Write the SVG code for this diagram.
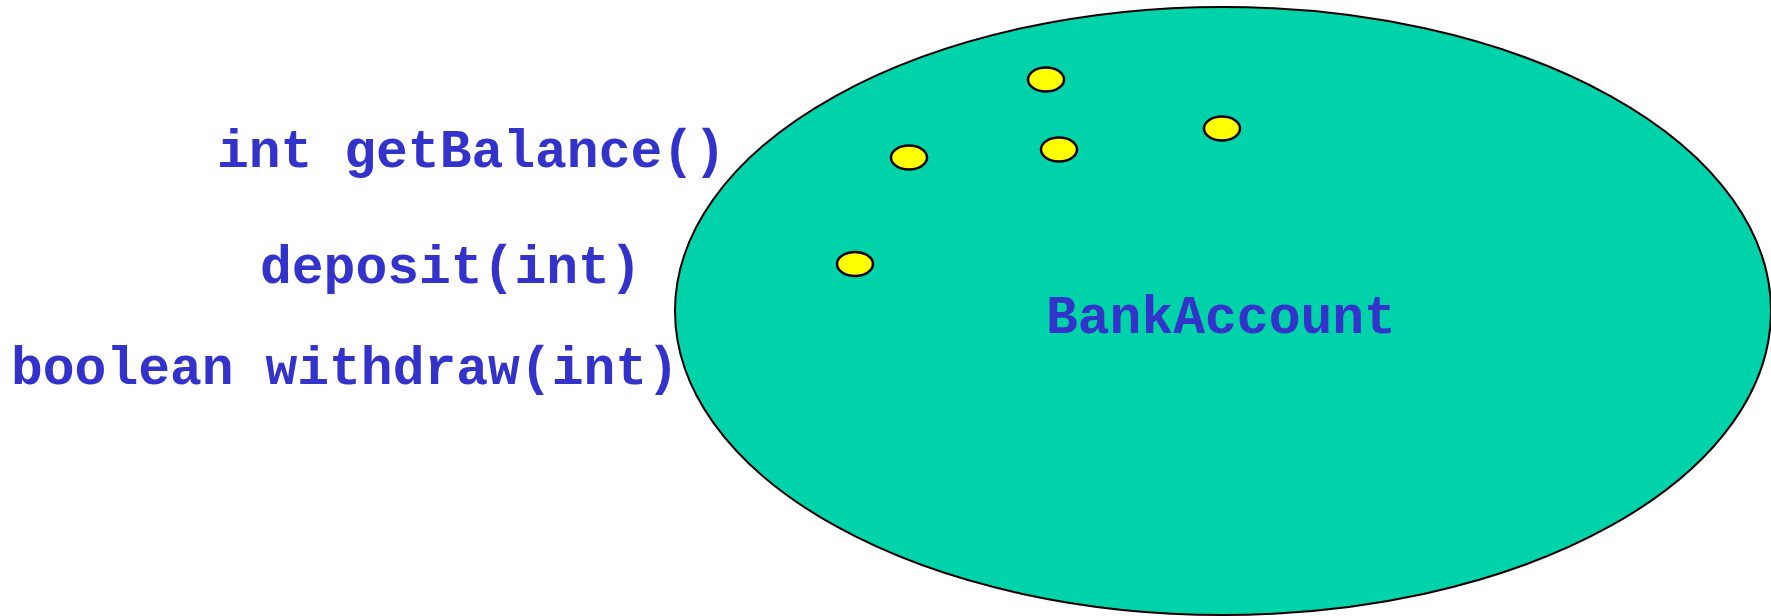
<svg xmlns="http://www.w3.org/2000/svg" width="1771" height="616" viewBox="0 0 1771 616">
<style>
.lbl{font-family:"Liberation Mono","Courier New",monospace;font-weight:bold;font-size:53px;fill:#3333CC}
.dot{fill:#FFFF00;stroke:#000;stroke-width:2.5}
</style>
<rect width="1771" height="616" fill="#fff"/>
<g id="bankaccount">
<ellipse cx="1223" cy="311" rx="548" ry="304" fill="#00D2AA" stroke="#000" stroke-width="2"/>
<text class="lbl" x="1046" y="333">BankAccount</text>
</g>
<g id="fields">
<ellipse class="dot" cx="1046" cy="79.5" rx="18" ry="12"/>
<ellipse class="dot" cx="1059" cy="149.5" rx="18" ry="12"/>
<ellipse class="dot" cx="1222" cy="128.5" rx="18" ry="12"/>
<ellipse class="dot" cx="909" cy="157.5" rx="18" ry="12"/>
<ellipse class="dot" cx="855" cy="264" rx="18" ry="12"/>
</g>
<g id="methods">
<text class="lbl" x="217" y="167">int getBalance()</text>
<text class="lbl" x="260" y="283">deposit(int)</text>
<text class="lbl" x="11" y="384">boolean withdraw(int)</text>
</g>
<g id="connectors"></g>
</svg>
